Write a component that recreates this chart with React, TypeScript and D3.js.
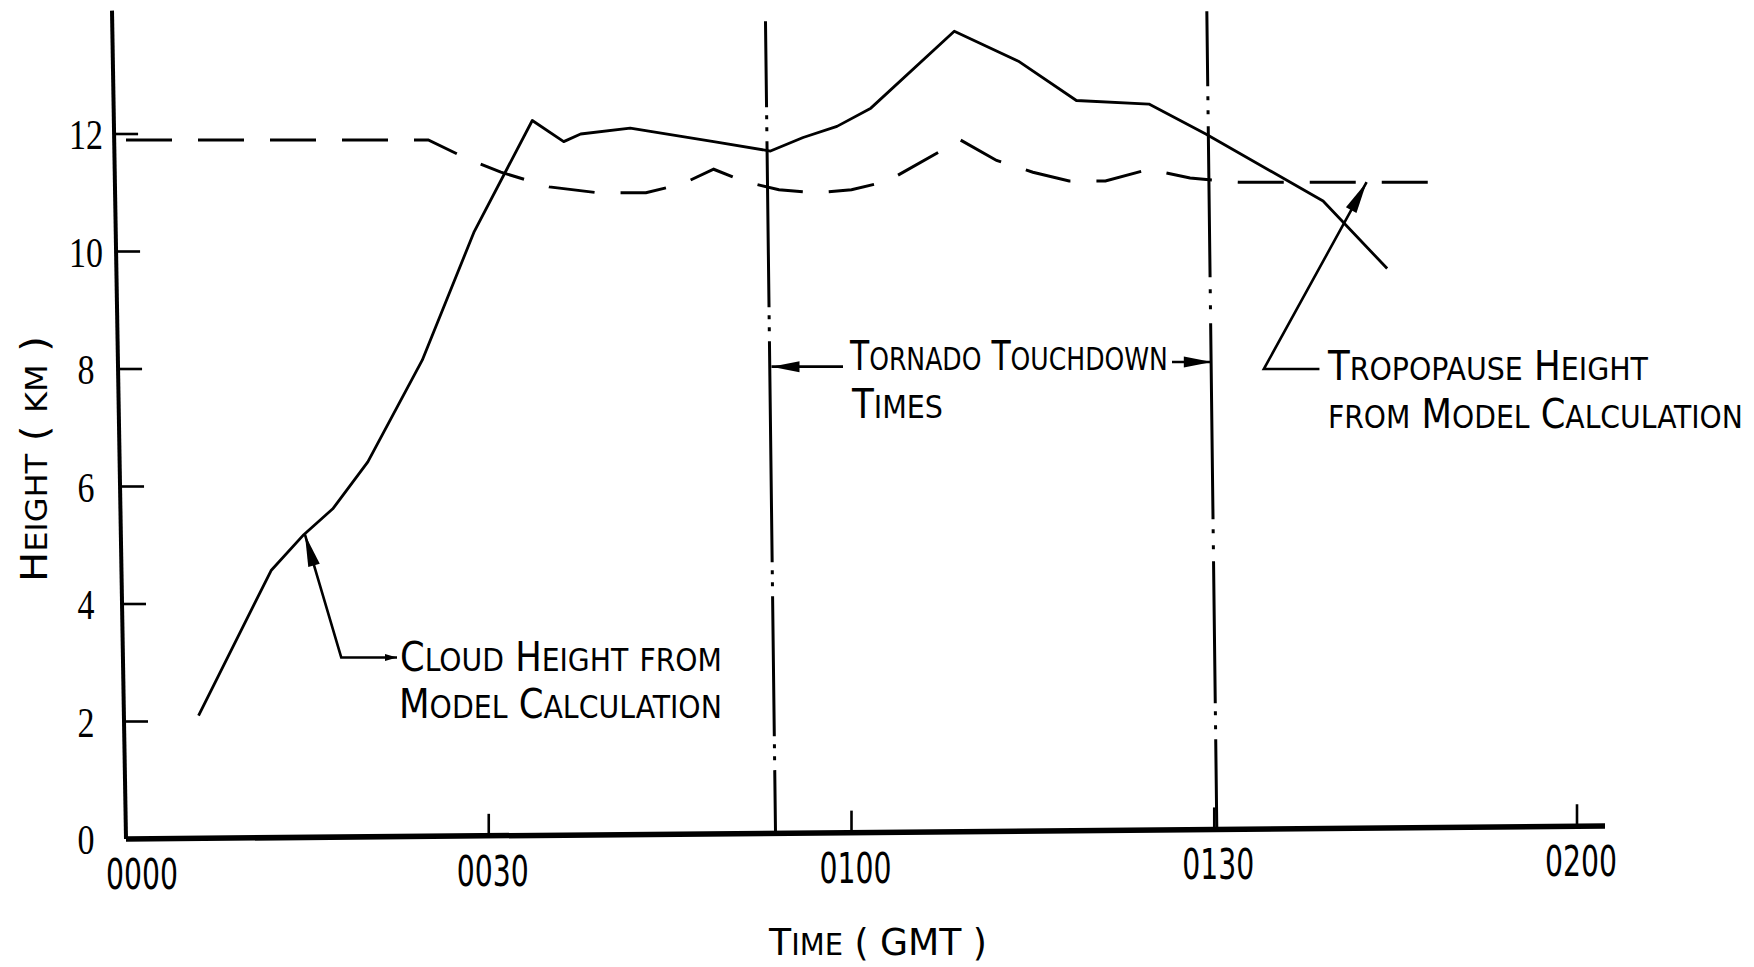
import * as d3 from "d3";
import { useEffect, useRef } from "react";

const W = 1754;
const H = 967;

// cloud height from model calculation: minutes after 0000 GMT, km
const cloudTime = [6, 12, 14.7, 17.1, 20, 24.5, 28.8, 33.6, 36.2, 37.6, 41.7, 48.6, 53.3, 56, 58.8, 61.6, 68.5, 73.8, 78.6, 84.6, 89.3, 99, 104.3];
const cloudHeight = [2.1, 4.57, 5.18, 5.62, 6.42, 8.15, 10.34, 12.23, 11.87, 12.0, 12.1, 11.87, 11.71, 11.94, 12.13, 12.44, 13.75, 13.24, 12.57, 12.51, 12.0, 10.86, 9.71];

// tropopause height from model calculation
const tropTime = [0, 25, 28, 31, 35, 39, 43, 46, 48.6, 51, 54, 57, 60, 63, 69, 72, 75, 78, 81, 84.6, 88, 92, 109];
const tropHeight = [11.9, 11.9, 11.6, 11.35, 11.1, 11.0, 11.0, 11.15, 11.4, 11.2, 11.05, 11.0, 11.05, 11.2, 11.9, 11.55, 11.35, 11.2, 11.2, 11.4, 11.25, 11.18, 11.18];

// tornado touchdown times
const touchdownTimes = [53.3, 89.8];

const xTicks = [0, 30, 60, 90, 120];
const xTickLabels = ["0000", "0030", "0100", "0130", "0200"];
const yTicks = [0, 2, 4, 6, 8, 10, 12];
const yTickLabels = ["0", "2", "4", "6", "8", "10", "12"];

const cloudNote = ["Cloud Height from", "Model Calculation"];
const tornadoNote = ["Tornado Touchdown", "Times"];
const tropNote = ["Tropopause Height", "from Model Calculation"];

const LETTER = "'DejaVu Sans Condensed', 'DejaVu Sans', sans-serif";
const DIGIT = "'Liberation Serif', 'DejaVu Serif', serif";

// squeeze a text element horizontally to a given width
function squeeze(t, x, y, width, anchor) {
  const natural = t.node().getComputedTextLength() || width;
  const sx = width / natural;
  t.attr("x", 0).attr("y", 0).attr("text-anchor", anchor).attr("transform", `translate(${x},${y}) scale(${sx},1)`);
}

// hand-lettered small caps: capitals full size, lower case drawn as smaller capitals
function letters(g, str, x, y, size, width, anchor = "start") {
  const t = g.append("text").attr("font-family", LETTER).attr("font-size", size).attr("fill", "#000");
  const runs = [];
  for (const ch of str) {
    const small = ch !== ch.toUpperCase();
    const last = runs[runs.length - 1];
    if (last && last.small === small) last.s += ch;
    else runs.push({ small, s: ch });
  }
  runs.forEach((r) => {
    t.append("tspan")
      .attr("font-size", r.small ? size * 0.8 : size)
      .text(r.s.toUpperCase());
  });
  squeeze(t, x, y, width, anchor);
  return t;
}

function arrow(g, pts, head = 28, half = 5, tail = false) {
  g.append("path")
    .attr("d", d3.line()(pts))
    .attr("fill", "none")
    .attr("stroke", "#000")
    .attr("stroke-width", 2.6);
  const drawHead = (a, b, len, hw) => {
    const dx = b[0] - a[0];
    const dy = b[1] - a[1];
    const l = Math.hypot(dx, dy);
    const ux = dx / l;
    const uy = dy / l;
    const bx = b[0] - ux * len;
    const by = b[1] - uy * len;
    g.append("path")
      .attr("d", `M${b[0]},${b[1]}L${bx - uy * hw},${by + ux * hw}L${bx + uy * hw},${by - ux * hw}Z`)
      .attr("fill", "#000");
  };
  drawHead(pts[pts.length - 2], pts[pts.length - 1], head, half);
  if (tail) drawHead(pts[1], pts[0], 12, 3.5);
}

export default function App() {
  const ref = useRef(null);

  useEffect(() => {
    const svg = d3.select(ref.current);
    svg.selectAll("*").remove();

    const x = d3.scaleLinear().domain([0, 120]).range([126, 1577]);
    const y = d3.scaleLinear().domain([0, 12]).range([839, 134]);
    const x0 = x(0);
    const y0 = y(0);
    const yTop = y(14.1);
    // the scanned frame leans a little
    const lean = 14 / (y0 - yTop);
    const axisX = (py) => x0 - (y0 - py) * lean;
    const slope = 13 / (1605 - x0);
    const axisY = (px) => y0 - (px - x0) * slope;

    const g = svg.append("g");

    // y axis
    g.append("line")
      .attr("x1", axisX(yTop))
      .attr("y1", yTop)
      .attr("x2", x0)
      .attr("y2", y0)
      .attr("stroke", "#000")
      .attr("stroke-width", 4);
    yTicks.forEach((v, i) => {
      const py = y(v);
      if (v > 0) {
        g.append("line")
          .attr("x1", axisX(py))
          .attr("y1", py)
          .attr("x2", axisX(py) + 24)
          .attr("y2", py)
          .attr("stroke", "#000")
          .attr("stroke-width", 2.6);
      }
      const lbl = yTickLabels[i];
      const t = g.append("text").attr("font-family", DIGIT).attr("font-size", 43).text(lbl);
      squeeze(t, x0 - 40, py + 15, lbl.length * 17, "middle");
    });

    // x axis
    g.append("line")
      .attr("x1", x0)
      .attr("y1", y0)
      .attr("x2", 1605)
      .attr("y2", axisY(1605))
      .attr("stroke", "#000")
      .attr("stroke-width", 5.5);
    xTicks.forEach((v, i) => {
      const px = x(v);
      if (v > 0) {
        g.append("line")
          .attr("x1", px)
          .attr("y1", axisY(px))
          .attr("x2", px)
          .attr("y2", axisY(px) - 22)
          .attr("stroke", "#000")
          .attr("stroke-width", 2.6);
      }
      const t = g.append("text").attr("font-family", LETTER).attr("font-size", 42).text(xTickLabels[i]);
      squeeze(t, px + (v === 0 ? 16 : 4), axisY(px) + 50, 72, "middle");
    });

    // axis titles
    letters(g, "Time ( GMT )", 878, 955, 38, 218, "middle");
    const yt = g.append("g").attr("transform", `translate(47,459) rotate(-90)`);
    letters(yt, "Height ( km )", 0, 0, 38, 246, "middle");

    // tornado touchdown lines (long dash, two dots)
    const tdDash = [
      "86 8 4 8 4 10 166 8 4 8 4 10 221 8 4 8 4 10 140 8 4 8 4 10 80",
      "75 10 4 10 4 12 151 12 4 12 4 14 196 10 4 12 4 12 142 8 4 10 4 10 100",
    ];
    touchdownTimes.forEach((t, i) => {
      const top = y(i === 0 ? 13.92 : 14.09);
      g.append("line")
        .attr("x1", x(t) - 5)
        .attr("y1", top)
        .attr("x2", x(t) + 5)
        .attr("y2", y0 - 8)
        .attr("stroke", "#000")
        .attr("stroke-width", 3)
        .attr("stroke-dasharray", tdDash[i]);
    });

    // tropopause (dashed)
    const line = d3
      .line()
      .x((d) => x(d[0]))
      .y((d) => y(d[1]));
    g.append("path")
      .attr("d", line(tropTime.map((t, i) => [t, tropHeight[i]])))
      .attr("fill", "none")
      .attr("stroke", "#000")
      .attr("stroke-width", 3)
      .attr("stroke-dasharray", "46 26");

    // cloud height (solid)
    g.append("path")
      .attr("d", line(cloudTime.map((t, i) => [t, cloudHeight[i]])))
      .attr("fill", "none")
      .attr("stroke", "#000")
      .attr("stroke-width", 2.8)
      .attr("stroke-linejoin", "round");

    // annotations
    letters(g, cloudNote[0], 400, 671, 40, 322);
    letters(g, cloudNote[1], 399, 718, 40, 323);
    arrow(g, [[397, y(3.09)], [x(17.8), y(3.09)], [x(14.8), y(5.18)]], 32, 6, true);

    letters(g, tornadoNote[0], 850, 370, 40, 318);
    letters(g, tornadoNote[1], 852, 418, 40, 91);
    arrow(g, [[843, y(8.04)], [x(touchdownTimes[0]) + 1, y(8.04)]], 28, 5.5);
    arrow(g, [[1172, y(8.12)], [x(touchdownTimes[1]), y(8.12)]], 28, 5.5);

    letters(g, tropNote[0], 1328, 380, 40, 320);
    letters(g, tropNote[1], 1328, 428, 40, 415);
    arrow(g, [[x(98.7), y(8.0)], [x(94.1), y(8.0)], [x(102.6), y(11.18)]], 32, 6);
  }, []);

  return (
    <svg ref={ref} width={W} height={H} style={{ display: "block", position: "absolute", left: 0, top: 0, background: "#fff" }} />
  );
}
